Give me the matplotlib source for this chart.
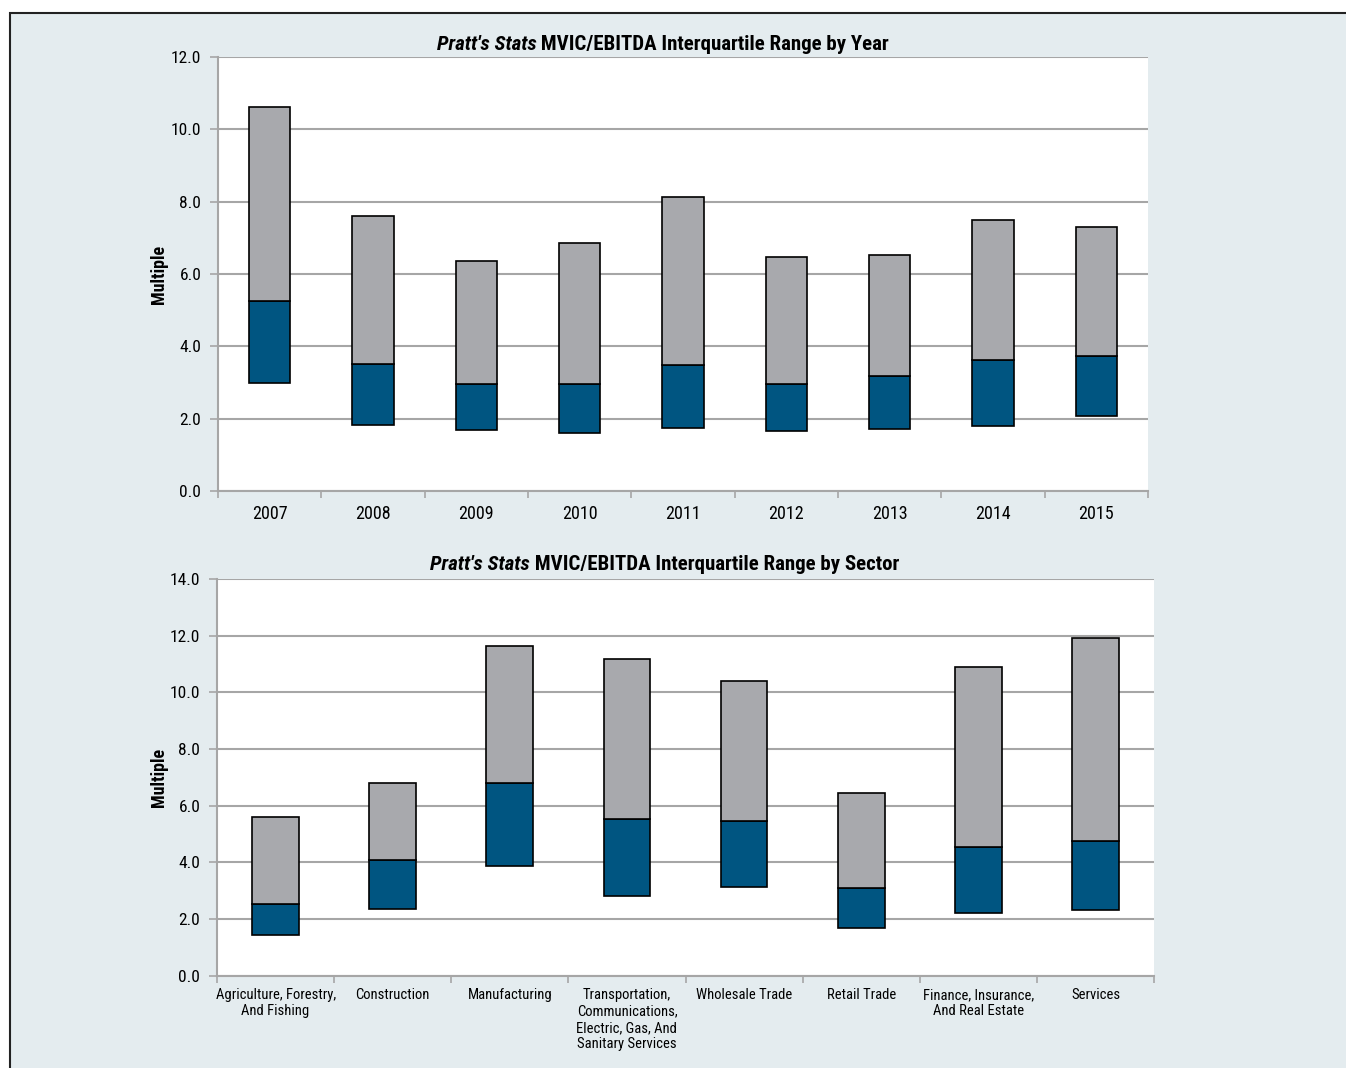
import numpy as np
import matplotlib
matplotlib.use("Agg")
import matplotlib.pyplot as plt
from matplotlib import font_manager
from matplotlib.patches import Rectangle

# Data: interquartile ranges (Q1, median, Q3)
years = ['2007', '2008', '2009', '2010', '2011', '2012', '2013', '2014', '2015']
year_q1 = [2.98, 1.82, 1.68, 1.60, 1.74, 1.65, 1.71, 1.79, 2.06]
year_med = [5.26, 3.52, 2.96, 2.95, 3.48, 2.96, 3.18, 3.61, 3.72]
year_q3 = [10.62, 7.60, 6.36, 6.87, 8.14, 6.47, 6.52, 7.48, 7.30]

sectors = ['Agriculture, Forestry,\nAnd Fishing', 'Construction', 'Manufacturing',
           'Transportation,\nCommunications,\nElectric, Gas, And\nSanitary Services',
           'Wholesale Trade', 'Retail Trade', 'Finance, Insurance,\nAnd Real Estate',
           'Services']
sector_q1 = [1.42, 2.35, 3.86, 2.82, 3.11, 1.68, 2.20, 2.33]
sector_med = [2.51, 4.08, 6.80, 5.52, 5.47, 3.08, 4.53, 4.75]
sector_q3 = [5.60, 6.78, 11.64, 11.17, 10.41, 6.45, 10.90, 11.93]

# Font: narrow sans if one is installed, else Liberation Sans
names = {f.name for f in font_manager.fontManager.ttflist}
fam = 'Liberation Sans'
for cand in ['Liberation Sans Narrow', 'Arial Narrow', 'Roboto Condensed',
             'Open Sans Condensed', 'Noto Sans Condensed']:
    if cand in names:
        fam = cand
        break
narrow = fam != 'Liberation Sans'
k = 1.0 if narrow else 0.9
plt.rcParams['font.family'] = [fam, 'DejaVu Sans']

BLUE = '#005581'
GREY = '#a8a9ad'
GRID = '#a6a6a6'
PANEL = '#e4ecef'

W, H = 1346, 1068
fig = plt.figure(figsize=(W / 100, H / 100), dpi=100, facecolor='white')

# light panel with black top/left border
fig.patches.append(Rectangle((10 / W, -0.05), 1.2, 1 - 13 / H + 0.05,
                             transform=fig.transFigure, facecolor=PANEL,
                             edgecolor='#222222', linewidth=1.5, zorder=-10))


def px_axes(l, t, r, b):
    return fig.add_axes([l / W, 1 - b / H, (r - l) / W, (b - t) / H])


def style(ax, labels, ymax, step, label_size, label_pad):
    n = len(labels)
    ax.set_facecolor('white')
    ax.set_xlim(-0.5, n - 0.5)
    ax.set_ylim(0, ymax)
    ax.set_yticks(np.arange(0, ymax + 0.01, step))
    ax.set_yticklabels(['%.1f' % v for v in np.arange(0, ymax + 0.01, step)], fontsize=12.5 * k)
    ax.set_xticks(np.arange(n))
    ax.set_xticklabels(labels, fontsize=label_size * k, linespacing=1.22)
    ax.set_xticks(np.arange(n + 1) - 0.5, minor=True)
    ax.tick_params(axis='x', which='major', length=0, pad=label_pad)
    ax.tick_params(axis='x', which='minor', length=5, color=GRID, width=1.2)
    ax.tick_params(axis='y', length=6, color=GRID, width=1.2, pad=6)
    ax.grid(axis='y', color=GRID, linewidth=1.5)
    ax.set_axisbelow(True)
    for s in ['top', 'right']:
        ax.spines[s].set_visible(False)
    for s in ['left', 'bottom']:
        ax.spines[s].set_color(GRID)
        ax.spines[s].set_linewidth(1.5)
    ax.set_ylabel('Multiple', fontsize=13 * k, fontweight='bold')
    bb = ax.get_position()
    ax.yaxis.set_label_coords((168 / W - bb.x0) / bb.width, 0.5)


def draw_bars(ax, q1, med, q3):
    x = np.arange(len(q1))
    q1 = np.array(q1)
    med = np.array(med)
    q3 = np.array(q3)
    ax.bar(x, med - q1, bottom=q1, width=0.4, color=BLUE, edgecolor='black', linewidth=1.2, zorder=3)
    ax.bar(x, q3 - med, bottom=med, width=0.4, color=GREY, edgecolor='black', linewidth=1.2, zorder=3)


ax1 = px_axes(218, 57, 1148, 491)
draw_bars(ax1, year_q1, year_med, year_q3)
style(ax1, years, 12, 2, 13, 10)

ax2 = px_axes(217, 579, 1154, 975.5)
draw_bars(ax2, sector_q1, sector_med, sector_q3)
style(ax2, sectors, 14, 2, 10.5 if narrow else 9.7, 9)

# titles: italic bold part followed by bold part, centred as in the original
fig.canvas.draw()
renderer = fig.canvas.get_renderer()


def two_part_title(rest, cx, y_px):
    size = 15 if narrow else 12.8
    t1 = fig.text(0, 1 - y_px / H, "Pratt's Stats", fontsize=size, fontweight='bold',
                  fontstyle='italic', va='center', ha='left')
    t2 = fig.text(0, 1 - y_px / H, ' ' + rest, fontsize=size, fontweight='bold',
                  va='center', ha='left')
    w1 = t1.get_window_extent(renderer).width
    w2 = t2.get_window_extent(renderer).width
    x0 = cx - (w1 + w2) / 2
    t1.set_x(x0 / W)
    t2.set_x((x0 + w1) / W)


two_part_title('MVIC/EBITDA Interquartile Range by Year', 663, 44)
two_part_title('MVIC/EBITDA Interquartile Range by Sector', 665, 565)

fig.savefig('out.png', dpi=100, facecolor=fig.get_facecolor())
